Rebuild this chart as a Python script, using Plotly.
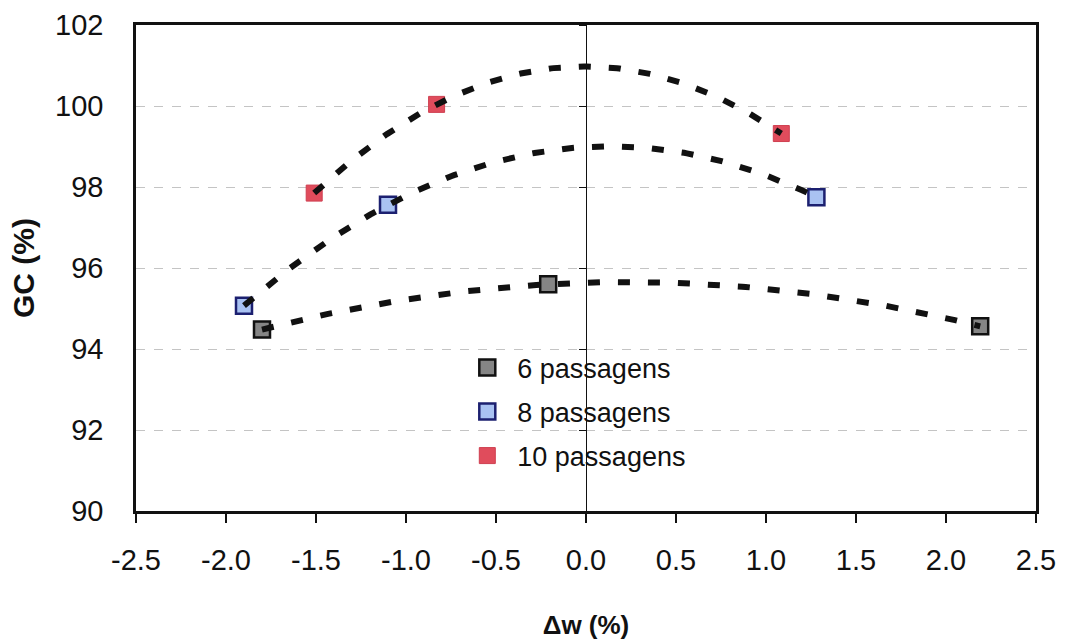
import numpy as np
import plotly.graph_objects as go

# ---- data ----
series_names = ["6 passagens", "8 passagens", "10 passagens"]
x_6 = [-1.80, -0.21, 2.19]
y_6 = [94.48, 95.60, 94.56]
x_8 = [-1.90, -1.10, 1.28]
y_8 = [95.07, 97.56, 97.75]
x_10 = [-1.51, -0.83, 1.085]
y_10 = [97.85, 100.04, 99.32]

x_ticks = [-2.5, -2.0, -1.5, -1.0, -0.5, 0.0, 0.5, 1.0, 1.5, 2.0, 2.5]
x_tick_labels = ["-2.5", "-2.0", "-1.5", "-1.0", "-0.5", "0.0", "0.5", "1.0", "1.5", "2.0", "2.5"]
y_ticks = [90, 92, 94, 96, 98, 100, 102]

FONT = "Arial, Liberation Sans, sans-serif"

styles = [
    dict(fill="#858585", edge="#111111", ew=2.5),
    dict(fill="#a9c2f2", edge="#1c2070", ew=2.5),
    dict(fill="#e04c5c", edge="#cf3f50", ew=1),
]

fig = go.Figure()

datasets = [(x_6, y_6), (x_8, y_8), (x_10, y_10)]
for (xs, ys), name, st in zip(datasets, series_names, styles):
    fig.add_trace(go.Scatter(
        x=xs, y=ys, mode="markers", name=name, legendgroup=name,
        marker=dict(symbol="square", size=16, color=st["fill"],
                    line=dict(color=st["edge"], width=st["ew"])),
        showlegend=True,
    ))

# polynomial (order 2) trendlines fitted to each series
for (xs, ys), name in zip(datasets, series_names):
    coef = np.polyfit(xs, ys, 2)
    xf = np.linspace(min(xs), max(xs), 200)
    yf = np.polyval(coef, xf)
    fig.add_trace(go.Scatter(
        x=xf, y=yf, mode="lines", yaxis="y2", showlegend=False,
        legendgroup=name, hoverinfo="skip",
        line=dict(color="#111111", width=6, dash="12px,18px"),
    ))

fig.update_layout(
    width=1065, height=641,
    margin=dict(l=136, r=29, t=25, b=130),
    paper_bgcolor="white", plot_bgcolor="white",
    font=dict(family=FONT, color="#111111"),
    xaxis=dict(
        range=[-2.5, 2.5], tickvals=x_ticks, ticktext=x_tick_labels,
        ticks="outside", ticklen=9, tickwidth=1.5, tickcolor="#111",
        showline=True, linewidth=3, linecolor="#111", mirror=True,
        showgrid=False, zeroline=False, automargin=False,
        tickfont=dict(size=29, family=FONT, color="#111"),
        ticklabelstandoff=12,
        title=dict(text="<b>Δw (%)</b>", font=dict(size=26, family=FONT, color="#111"),
                   standoff=42),
    ),
    yaxis=dict(
        range=[90, 102], tickvals=y_ticks,
        ticks="", showline=True, linewidth=2.5, linecolor="#111", mirror=True,
        showgrid=True, gridcolor="#c4c4c4", griddash="dash", gridwidth=1,
        zeroline=False, automargin=False,
        tickfont=dict(size=29, family=FONT, color="#111"),
        ticklabelstandoff=24,
        title=dict(text="<b>GC (%)</b>", font=dict(size=30, family=FONT, color="#111"),
                   standoff=12),
    ),
    yaxis2=dict(
        range=[90, 102], tickvals=y_ticks, overlaying="y", anchor="free",
        position=0.5, side="left", showline=True, linewidth=1.2, linecolor="#111",
        ticks="outside", ticklen=7, tickcolor="#111", showticklabels=False,
        showgrid=False, zeroline=False, automargin=False,
    ),
    legend=dict(
        x=0.357, y=0.345, xanchor="left", yanchor="top",
        bgcolor="rgba(0,0,0,0)", borderwidth=0,
        font=dict(size=27, family=FONT, color="#111"),
        tracegroupgap=6, itemwidth=50,
    ),
    showlegend=True,
)

fig.write_html("out.html")
